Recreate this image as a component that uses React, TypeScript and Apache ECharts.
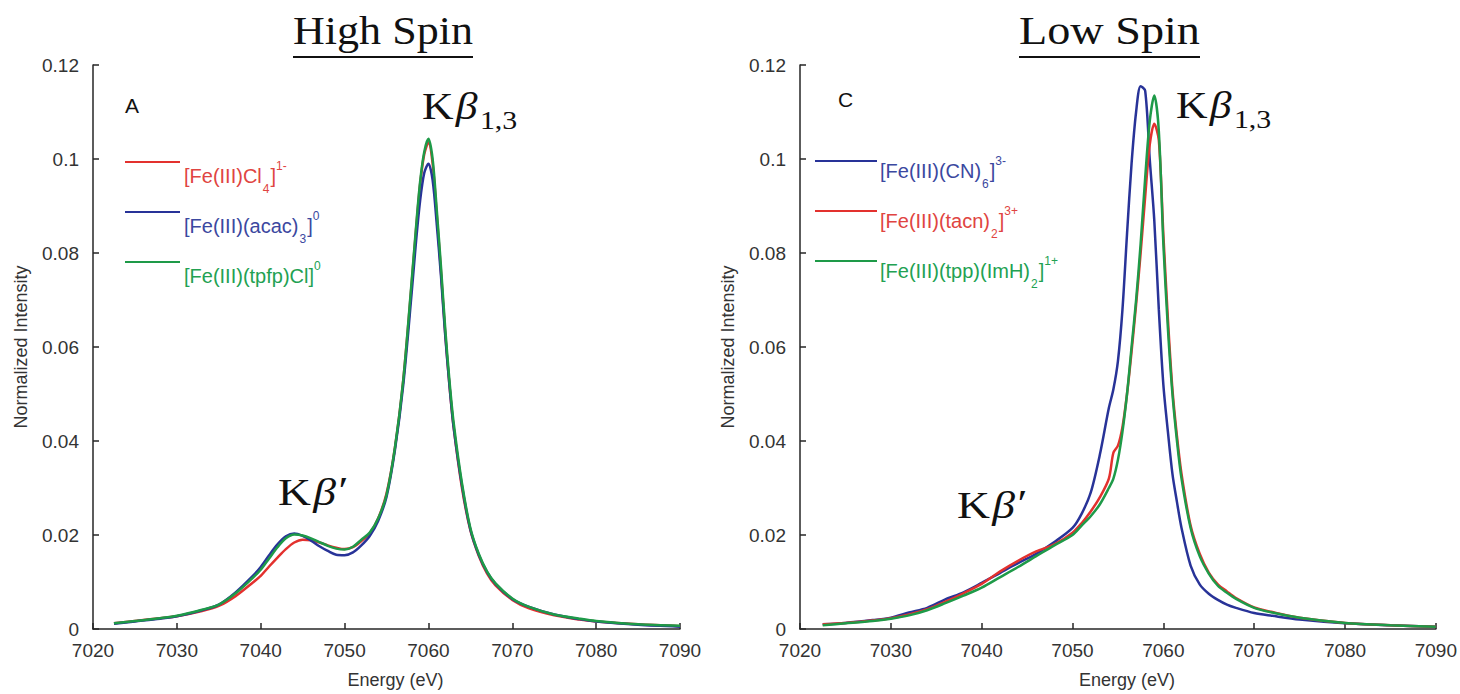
import React, { useEffect, useRef } from 'react';
import * as echarts from 'echarts';

// ---------------- DATA ----------------
// High spin panel (A)
const hsEnergy = [7022.5, 7025, 7028, 7030, 7033, 7035, 7037, 7039, 7040, 7041, 7042, 7043, 7044, 7045, 7046, 7047, 7048, 7049, 7050, 7051, 7052, 7053, 7054, 7055, 7056, 7057, 7058, 7058.5, 7059, 7059.5, 7060, 7060.5, 7061, 7061.5, 7062, 7062.5, 7063, 7064, 7065, 7066, 7067, 7068, 7070, 7072, 7075, 7078, 7080, 7085, 7090];
const hsCl4 = [0.0012, 0.0017, 0.0023, 0.0027, 0.0038, 0.0049, 0.0070, 0.0098, 0.0113, 0.0133, 0.0152, 0.0170, 0.0184, 0.0190, 0.0189, 0.0184, 0.0178, 0.0173, 0.0170, 0.0174, 0.0187, 0.0203, 0.0235, 0.0288, 0.0385, 0.0530, 0.0735, 0.0845, 0.0945, 0.1010, 0.1035, 0.0990, 0.0880, 0.0760, 0.0630, 0.0520, 0.0430, 0.0300, 0.0210, 0.0156, 0.0118, 0.0093, 0.0062, 0.0044, 0.0029, 0.0020, 0.0016, 0.0010, 0.0006];
const hsAcac = [0.0011, 0.0016, 0.0022, 0.0027, 0.0040, 0.0052, 0.0078, 0.0112, 0.0132, 0.0157, 0.0180, 0.0197, 0.0203, 0.0198, 0.0188, 0.0176, 0.0166, 0.0158, 0.0157, 0.0163, 0.0178, 0.0198, 0.0230, 0.0281, 0.0380, 0.0520, 0.0715, 0.0820, 0.0910, 0.0970, 0.0990, 0.0955, 0.0860, 0.0750, 0.0625, 0.0520, 0.0430, 0.0305, 0.0212, 0.0158, 0.0121, 0.0096, 0.0064, 0.0047, 0.0031, 0.0021, 0.0016, 0.0009, 0.0005];
const hsTpfp = [0.0012, 0.0017, 0.0023, 0.0028, 0.0041, 0.0052, 0.0076, 0.0108, 0.0126, 0.0150, 0.0174, 0.0193, 0.0201, 0.0199, 0.0193, 0.0185, 0.0177, 0.0171, 0.0169, 0.0175, 0.0190, 0.0205, 0.0235, 0.0285, 0.0385, 0.0530, 0.0740, 0.0850, 0.0950, 0.1015, 0.1043, 0.1000, 0.0890, 0.0770, 0.0640, 0.0530, 0.0440, 0.0310, 0.0215, 0.0160, 0.0122, 0.0097, 0.0065, 0.0047, 0.0031, 0.0022, 0.0017, 0.0010, 0.0007];

// Low spin panel (C)
const lsEnergy = [7022.5, 7025, 7028, 7030, 7032, 7034, 7036, 7038, 7040, 7042, 7044, 7046, 7048, 7050, 7051, 7052, 7053, 7054, 7054.5, 7055, 7055.5, 7056, 7056.5, 7057, 7057.5, 7058, 7058.5, 7059, 7059.5, 7060, 7060.5, 7061, 7061.5, 7062, 7063, 7064, 7065, 7066, 7067, 7068, 7070, 7072, 7075, 7080, 7085, 7090];
const lsCN6 = [0.0010, 0.0013, 0.0019, 0.0024, 0.0035, 0.0045, 0.0063, 0.0078, 0.0098, 0.0119, 0.0140, 0.0160, 0.0185, 0.0215, 0.0245, 0.0290, 0.0370, 0.0470, 0.0510, 0.0570, 0.0680, 0.0840, 0.0990, 0.1100, 0.1155, 0.1145, 0.1000, 0.0870, 0.0680, 0.0520, 0.0420, 0.0330, 0.0270, 0.0215, 0.0135, 0.0095, 0.0075, 0.0062, 0.0052, 0.0045, 0.0034, 0.0028, 0.0020, 0.0012, 0.0008, 0.0005];
const lsTacn = [0.0010, 0.0013, 0.0018, 0.0023, 0.0031, 0.0042, 0.0058, 0.0076, 0.0096, 0.0122, 0.0145, 0.0165, 0.0180, 0.0205, 0.0225, 0.0250, 0.0280, 0.0320, 0.0375, 0.0390, 0.0430, 0.0500, 0.0590, 0.0690, 0.0800, 0.0920, 0.1030, 0.1075, 0.1040, 0.0840, 0.0660, 0.0510, 0.0410, 0.0330, 0.0220, 0.0160, 0.0120, 0.0095, 0.0080, 0.0066, 0.0046, 0.0036, 0.0024, 0.0013, 0.0008, 0.0005];
const lsTpp = [0.0008, 0.0012, 0.0017, 0.0022, 0.0029, 0.0040, 0.0055, 0.0071, 0.0088, 0.0110, 0.0132, 0.0155, 0.0178, 0.0200, 0.0220, 0.0240, 0.0265, 0.0300, 0.0320, 0.0360, 0.0420, 0.0500, 0.0600, 0.0700, 0.0820, 0.0960, 0.1080, 0.1135, 0.1060, 0.0820, 0.0640, 0.0500, 0.0400, 0.0320, 0.0215, 0.0155, 0.0118, 0.0092, 0.0077, 0.0064, 0.0045, 0.0035, 0.0024, 0.0013, 0.0008, 0.0005];

const xTicks = { min: 7020, max: 7090, interval: 10 };
const yTicks = { min: 0, max: 0.12, interval: 0.02 };

type Piece = [string, 'n' | 'sub' | 'sup'];
const hsLegend: { name: string; pieces: Piece[] }[] = [
  { name: '[Fe(III)Cl4]1-', pieces: [['[Fe(III)Cl', 'n'], ['4', 'sub'], [']', 'n'], ['1-', 'sup']] },
  { name: '[Fe(III)(acac)3]0', pieces: [['[Fe(III)(acac)', 'n'], ['3', 'sub'], [']', 'n'], ['0', 'sup']] },
  { name: '[Fe(III)(tpfp)Cl]0', pieces: [['[Fe(III)(tpfp)Cl]', 'n'], ['0', 'sup']] },
];
const lsLegend: { name: string; pieces: Piece[] }[] = [
  { name: '[Fe(III)(CN)6]3-', pieces: [['[Fe(III)(CN)', 'n'], ['6', 'sub'], [']', 'n'], ['3-', 'sup']] },
  { name: '[Fe(III)(tacn)2]3+', pieces: [['[Fe(III)(tacn)', 'n'], ['2', 'sub'], [']', 'n'], ['3+', 'sup']] },
  { name: '[Fe(III)(tpp)(ImH)2]1+', pieces: [['[Fe(III)(tpp)(ImH)', 'n'], ['2', 'sub'], [']', 'n'], ['1+', 'sup']] },
];

// ---------------- STYLE ----------------
const RED = '#e3312e';
const BLUE = '#283398';
const GREEN = '#1e9a48';
const RED_T = '#e04441';
const BLUE_T = '#3b48a0';
const GREEN_T = '#22a152';
const SANS = 'Liberation Sans';
const SERIF = 'Liberation Serif';
const AXIS = '#262626';
const LABEL = '#333333';

const zip = (xs: number[], ys: number[]) => xs.map((x, i) => [x, ys[i]]);

let ctx: CanvasRenderingContext2D | null = null;
function measure(text: string, font: string): number {
  if (!ctx) ctx = document.createElement('canvas').getContext('2d');
  if (!ctx) return text.length * 10;
  ctx.font = font;
  return ctx.measureText(text).width;
}

function formula(pieces: Piece[], x: number, baseline: number, color: string) {
  const main = 20;
  const small = 12;
  const children: any[] = [];
  let cx = 0;
  pieces.forEach(([t, k]) => {
    const size = k === 'n' ? main : small;
    const w = measure(t, `${size}px "${SANS}"`);
    let cy = baseline - 0.35 * main;
    if (k === 'sub') cy = baseline + 6;
    if (k === 'sup') cy = baseline - 17;
    if (k === 'sub') cx += 1;
    children.push({
      type: 'text', x: x + cx, y: cy, z: 50,
      style: { text: t, fill: color, fontSize: size, fontFamily: SANS, align: 'left', verticalAlign: 'middle' },
    });
    cx += w + (k === 'sub' ? 1 : 0);
  });
  return children;
}

function kbeta(x: number, baseline: number, sub: string | null, prime: boolean, sx: number) {
  const size = 38;
  const subSize = 26;
  const kw = measure('K', `${size}px "${SERIF}"`);
  const bw = measure('β', `italic ${size}px "${SERIF}"`);
  const cyMain = -0.34 * size;
  const children: any[] = [
    { type: 'text', x: 0, y: cyMain, style: { text: 'K', fill: '#111', fontSize: size, fontFamily: SERIF, align: 'left', verticalAlign: 'middle' } },
    { type: 'text', x: kw + 2, y: cyMain, style: { text: 'β', fill: '#111', fontSize: size, fontFamily: SERIF, fontStyle: 'italic', align: 'left', verticalAlign: 'middle' } },
  ];
  if (sub) {
    children.push({ type: 'text', x: kw + bw + 4, y: 1, style: { text: sub, fill: '#111', fontSize: subSize, fontFamily: SERIF, align: 'left', verticalAlign: 'middle' } });
  }
  if (prime) {
    children.push({ type: 'text', x: kw + bw + 4, y: cyMain - 2, style: { text: '′', fill: '#111', fontSize: size, fontFamily: SERIF, align: 'left', verticalAlign: 'middle' } });
  }
  return [{ type: 'group', x, y: baseline, scaleX: sx, z: 50, children }];
}

function title(text: string, x: number, baseline: number, targetW: number) {
  const size = 40;
  const w = measure(text, `${size}px "${SERIF}"`);
  const s = w > 0 ? targetW / w : 1;
  return [
    { type: 'text', x, y: baseline - 0.34 * size, scaleX: s, z: 50, style: { text, fill: '#111', fontSize: size, fontFamily: SERIF, align: 'left', verticalAlign: 'middle' } },
    { type: 'line', z: 50, shape: { x1: x, y1: 57, x2: x + targetW, y2: 57 }, style: { stroke: '#111', lineWidth: 2 } },
  ];
}

function legendBlock(items: { name: string; pieces: Piece[] }[], colors: string[], textColors: string[], x1: number, x2: number, tx: number, lineY: number[], baseY: number[]) {
  const els: any[] = [];
  items.forEach((it, i) => {
    els.push({ type: 'line', z: 50, shape: { x1, y1: lineY[i], x2, y2: lineY[i] }, style: { stroke: colors[i], lineWidth: 2 } });
    els.push(...formula(it.pieces, tx, baseY[i], textColors[i]));
  });
  return els;
}

function xAxis(gridIndex: number, nameShift: number) {
  return {
    type: 'value', gridIndex, ...xTicks,
    axisLine: { show: true, onZero: false, lineStyle: { color: AXIS, width: 1.5 } },
    axisTick: { show: true, inside: true, length: 6, lineStyle: { color: AXIS, width: 1.5 } },
    axisLabel: { fontSize: 19, color: LABEL, fontFamily: SANS, margin: 12, formatter: (v: number) => String(v) },
    splitLine: { show: false },
    name: 'Energy (eV)', nameLocation: 'middle', nameGap: 42,
    nameTextStyle: { fontSize: 18, color: LABEL, fontFamily: SANS, padding: [0, 0, 0, nameShift] },
  };
}

function yAxis(gridIndex: number) {
  return {
    type: 'value', gridIndex, ...yTicks,
    axisLine: { show: true, onZero: false, lineStyle: { color: AXIS, width: 1.5 } },
    axisTick: { show: true, inside: true, length: 6, lineStyle: { color: AXIS, width: 1.5 } },
    axisLabel: { fontSize: 19, color: LABEL, fontFamily: SANS, margin: 14, formatter: (v: number) => String(+v.toFixed(2)) },
    splitLine: { show: false },
    name: 'Normalized Intensity', nameLocation: 'middle', nameGap: 63,
    nameTextStyle: { fontSize: 18, color: LABEL, fontFamily: SANS },
  };
}

function line(name: string, xi: number, xs: number[], ys: number[], color: string) {
  return {
    type: 'line', name, xAxisIndex: xi, yAxisIndex: xi, data: zip(xs, ys),
    showSymbol: false, symbol: 'none', smooth: 0.3,
    lineStyle: { color, width: 2.5 }, itemStyle: { color },
  };
}

export default function App() {
  const ref = useRef<HTMLDivElement>(null);
  useEffect(() => {
    if (!ref.current) return;
    const chart = echarts.init(ref.current, undefined, { renderer: 'svg' });
    const graphic: any[] = [
      ...title('High Spin', 293, 44, 180),
      ...title('Low Spin', 1019, 44, 181),
      ...kbeta(422, 119, '1,3', false, 1.15),
      ...kbeta(278, 505, null, true, 1.2),
      ...kbeta(1176, 118, '1,3', false, 1.15),
      ...kbeta(957, 518, null, true, 1.2),
      { type: 'text', x: 125, y: 113 - 7.5, z: 50, style: { text: 'A', fill: '#111', fontSize: 21, fontFamily: SANS, align: 'left', verticalAlign: 'middle' } },
      { type: 'text', x: 838, y: 107 - 7.5, z: 50, style: { text: 'C', fill: '#111', fontSize: 21, fontFamily: SANS, align: 'left', verticalAlign: 'middle' } },
      ...legendBlock(hsLegend, [RED, BLUE, GREEN], [RED_T, BLUE_T, GREEN_T], 125, 180, 184, [162, 212, 262], [183, 233, 283]),
      ...legendBlock(lsLegend, [BLUE, RED, GREEN], [BLUE_T, RED_T, GREEN_T], 815, 877, 880, [161, 211, 261], [178, 228, 278]),
    ];
    chart.setOption({
      animation: false,
      backgroundColor: '#ffffff',
      grid: [
        { left: 93, top: 65, width: 587, height: 567 },
        { left: 800, top: 65, width: 637, height: 565 },
      ],
      xAxis: [xAxis(0, 18), xAxis(1, 18)],
      yAxis: [yAxis(0), yAxis(1)],
      series: [
        line(hsLegend[0].name, 0, hsEnergy, hsCl4, RED),
        line(hsLegend[1].name, 0, hsEnergy, hsAcac, BLUE),
        line(hsLegend[2].name, 0, hsEnergy, hsTpfp, GREEN),
        line(lsLegend[0].name, 1, lsEnergy, lsCN6, BLUE),
        line(lsLegend[1].name, 1, lsEnergy, lsTacn, RED),
        line(lsLegend[2].name, 1, lsEnergy, lsTpp, GREEN),
      ],
      graphic,
    });
    return () => chart.dispose();
  }, []);
  return <div ref={ref} style={{ position: 'absolute', left: 0, top: 0, width: 1460, height: 694, background: '#fff' }} />;
}
